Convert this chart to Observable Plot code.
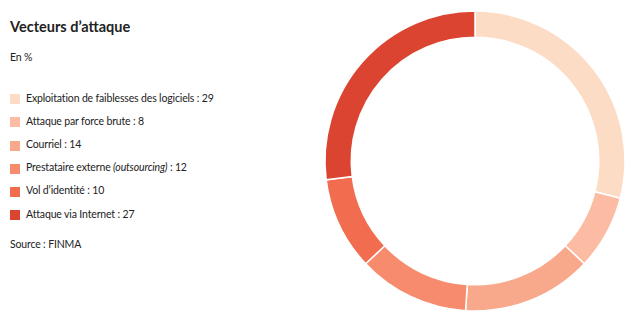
<!DOCTYPE html>
<html><head><meta charset="utf-8">
<script src="https://cdn.jsdelivr.net/npm/d3@7"></script>
<script src="https://cdn.jsdelivr.net/npm/@observablehq/plot@0.6"></script>
<style>
html,body{margin:0;padding:0;background:#fff;}
#wrap{position:relative;width:640px;height:326px;font-family:Lato,"Noto Sans",sans-serif;color:#222;}
#title{position:absolute;left:10px;top:18.4px;font-size:14.5px;line-height:normal;font-weight:bold;}
#sub,#legend,#source{font-size:10.5px;letter-spacing:-0.15px;line-height:normal;}
#sub{position:absolute;left:10px;top:51.3px;}
#legend{position:absolute;left:10px;top:91.6px;}
.item{height:23.2px;display:flex;align-items:flex-start;white-space:nowrap;}
.sw{width:10px;height:10px;margin-right:6px;margin-top:2.7px;flex:none;}
#source{position:absolute;left:10px;top:238px;}
#chart{position:absolute;left:320px;top:0;}
</style></head>
<body><div id="wrap">
<div id="title">Vecteurs d’attaque</div>
<div id="sub">En&#8239;%</div>
<div id="legend"></div>
<div id="source">Source&#8239;: FINMA</div>
<div id="chart"></div>
</div>
<script>
const categories = ["Exploitation de faiblesses des logiciels", "Attaque par force brute", "Courriel", "Prestataire externe (outsourcing)", "Vol d’identité", "Attaque via Internet"];
const labelsHtml = ["Exploitation de faiblesses des logiciels", "Attaque par force brute", "Courriel", "Prestataire externe <i>(outsourcing)</i>", "Vol d’identité", "Attaque via Internet"];
const values = [29, 8, 14, 12, 10, 27];
const colors = ["#fddcc5", "#fbbca3", "#f9a98b", "#f68b6e", "#f26d50", "#da4430"];

const data = categories.map((c, i) => ({category: c, value: values[i]}));

const legend = document.getElementById("legend");
data.forEach((d, i) => {
  const el = document.createElement("div");
  el.className = "item";
  el.innerHTML = `<span class="sw" style="background:${colors[i]}"></span><span>${labelsHtml[i]}\u202F: ${d.value}</span>`;
  legend.appendChild(el);
});

const pie = d3.pie().sort(null).value(d => d.value);
const arcs = pie(data);

const W = 310, H = 326;
const chart = Plot.plot({
  width: W, height: H,
  margin: 0,
  x: {domain: [-1, 1], range: [5, 305], axis: null},
  y: {domain: [-1, 1], range: [311, 11], axis: null},
  color: {domain: categories, range: colors},
  marks: [
    (index, scales) => {
      const cx = scales.x(0), cy = scales.y(0);
      const r = scales.x(1) - cx;
      const arc = d3.arc().outerRadius(r).innerRadius(r * 0.825);
      const g = d3.create("svg:g").attr("transform", `translate(${cx},${cy})`);
      g.selectAll("path").data(arcs).join("path")
        .attr("d", arc)
        .attr("fill", d => scales.color(d.data.category))
        .attr("stroke", "#fff")
        .attr("stroke-width", 1.5);
      return g.node();
    }
  ]
});
document.getElementById("chart").appendChild(chart);
</script>
</body></html>
